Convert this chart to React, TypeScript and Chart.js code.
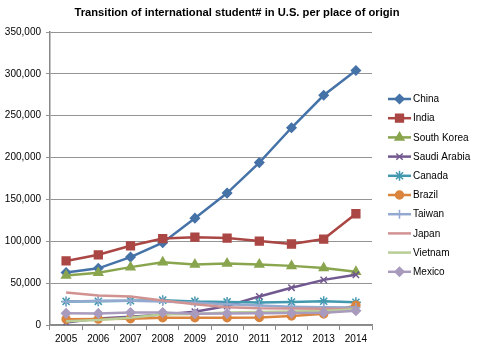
import React, { useEffect, useRef } from "react";
import { Chart, registerables } from "chart.js";
import { drawPoint } from "chart.js/helpers";

Chart.register(...registerables);

const years = ["2005", "2006", "2007", "2008", "2009", "2010", "2011", "2012", "2013", "2014"];
const china = [62582, 67723, 81127, 98235, 127628, 157558, 194029, 235597, 274439, 304040];
const india = [76503, 83833, 94563, 103260, 104897, 103895, 100270, 96754, 102673, 132888];
const southKorea = [59022, 62392, 69124, 75065, 72153, 73351, 72295, 70627, 68047, 63710];
const saudiArabia = [3035, 7886, 9873, 12661, 15810, 22704, 34139, 44566, 53919, 59945];
const canada = [28202, 28280, 29051, 29697, 28145, 27546, 26821, 27357, 28304, 27240];
const brazil = [7009, 7126, 7578, 8767, 8786, 8777, 9029, 10868, 13286, 23675];
const taiwan = [27876, 29094, 29001, 28065, 26685, 24818, 23250, 21867, 21266, 20993];
const japan = [38712, 35282, 33974, 29264, 24842, 21290, 19966, 19568, 19334, 19064];
const vietnam = [4597, 6036, 8769, 12823, 13112, 14888, 15572, 16098, 16579, 18722];
const mexico = [13931, 13826, 14837, 14850, 13450, 13713, 13893, 14199, 14779, 17052];

const title = "Transition of international student# in U.S. per place of origin";

const series = [
  { label: "China", data: china, color: "#4572A7", style: "rectRot", r: 4.5 },
  { label: "India", data: india, color: "#AA4643", style: "rect", r: 5.5 },
  { label: "South Korea", data: southKorea, color: "#89A54E", style: "triangle", r: 5 },
  { label: "Saudi Arabia", data: saudiArabia, color: "#71588F", style: "crossRot", r: 4.5 },
  { label: "Canada", data: canada, color: "#4198AF", style: "star", r: 5 },
  { label: "Brazil", data: brazil, color: "#DB843D", style: "circle", r: 4 },
  { label: "Taiwan", data: taiwan, color: "#93A9CF", style: "cross", r: 4.5 },
  { label: "Japan", data: japan, color: "#D19392", style: "circle", r: 0 },
  { label: "Vietnam", data: vietnam, color: "#B9CD96", style: "circle", r: 0 },
  { label: "Mexico", data: mexico, color: "#A99BBD", style: "rectRot", r: 4.5 },
];

const FONT = "'Liberation Sans', Arial, sans-serif";

const extras = {
  id: "extras",
  afterDraw(chart: any) {
    const ctx = chart.ctx as CanvasRenderingContext2D;
    ctx.save();
    // title
    ctx.fillStyle = "#000";
    ctx.font = `bold 11.2px ${FONT}`;
    ctx.textAlign = "center";
    ctx.textBaseline = "middle";
    ctx.fillText(title, 237, 12.5);
    // legend
    ctx.font = `10px ${FONT}`;
    ctx.textAlign = "left";
    series.forEach((s, i) => {
      const y = 99 + i * 19.2;
      ctx.strokeStyle = s.color;
      ctx.lineWidth = 2.5;
      ctx.beginPath();
      ctx.moveTo(388, y);
      ctx.lineTo(411, y);
      ctx.stroke();
      if (s.r > 0) {
        ctx.fillStyle = s.color;
        ctx.strokeStyle = s.color;
        ctx.lineWidth = 1.5;
        drawPoint(ctx, { pointStyle: s.style, radius: s.r, rotation: 0, borderWidth: 1.5 } as any, 399.5, y);
      }
      ctx.fillStyle = "#000";
      ctx.fillText(s.label, 413, y + 0.5);
    });
    ctx.restore();
  },
};

export default function App() {
  const ref = useRef<HTMLCanvasElement | null>(null);
  useEffect(() => {
    if (!ref.current) return;
    const chart = new Chart(ref.current, {
      type: "line",
      data: {
        labels: years,
        datasets: series.map((s, i) => ({
          label: s.label,
          data: s.data,
          borderColor: s.color,
          backgroundColor: s.color,
          pointBackgroundColor: s.color,
          pointBorderColor: s.color,
          pointStyle: s.style as any,
          pointRadius: s.r,
          pointBorderWidth: 1.5,
          borderWidth: 2.5,
          tension: 0,
          fill: false,
          order: 10 - i,
        })),
      },
      options: {
        animation: false,
        responsive: false,
        layout: { padding: { top: 32, right: 108, left: 0, bottom: 0 } },
        plugins: {
          legend: { display: false },
          title: { display: false },
          tooltip: { enabled: false },
        },
        scales: {
          x: {
            offset: true,
            afterFit: (scale: any) => {
              scale.height = 29;
            },
            grid: {
              offset: true,
              drawOnChartArea: false,
              drawTicks: true,
              tickLength: 5,
              color: "#888888",
            },
            border: { color: "#888888", width: 1.5 },
            ticks: {
              color: "#000",
              font: { family: FONT, size: 10 },
              padding: 3,
              maxRotation: 0,
            },
          },
          y: {
            min: 0,
            max: 350000,
            afterFit: (scale: any) => {
              scale.width = 50;
            },
            grid: {
              color: "#949494",
              lineWidth: 1,
              tickLength: 4,
              drawTicks: true,
            },
            border: { color: "#888888", width: 1.5 },
            ticks: {
              stepSize: 50000,
              color: "#000",
              font: { family: FONT, size: 10 },
              padding: 5,
              callback: (v: any) => Number(v).toLocaleString("en-US"),
            },
          },
        },
      },
      plugins: [extras],
    });
    return () => chart.destroy();
  }, []);
  return (
    <div style={{ position: "absolute", left: 0, top: 0, width: 480, height: 354, background: "#fff" }}>
      <canvas ref={ref} width={480} height={354} style={{ width: 480, height: 354, display: "block" }} />
    </div>
  );
}
